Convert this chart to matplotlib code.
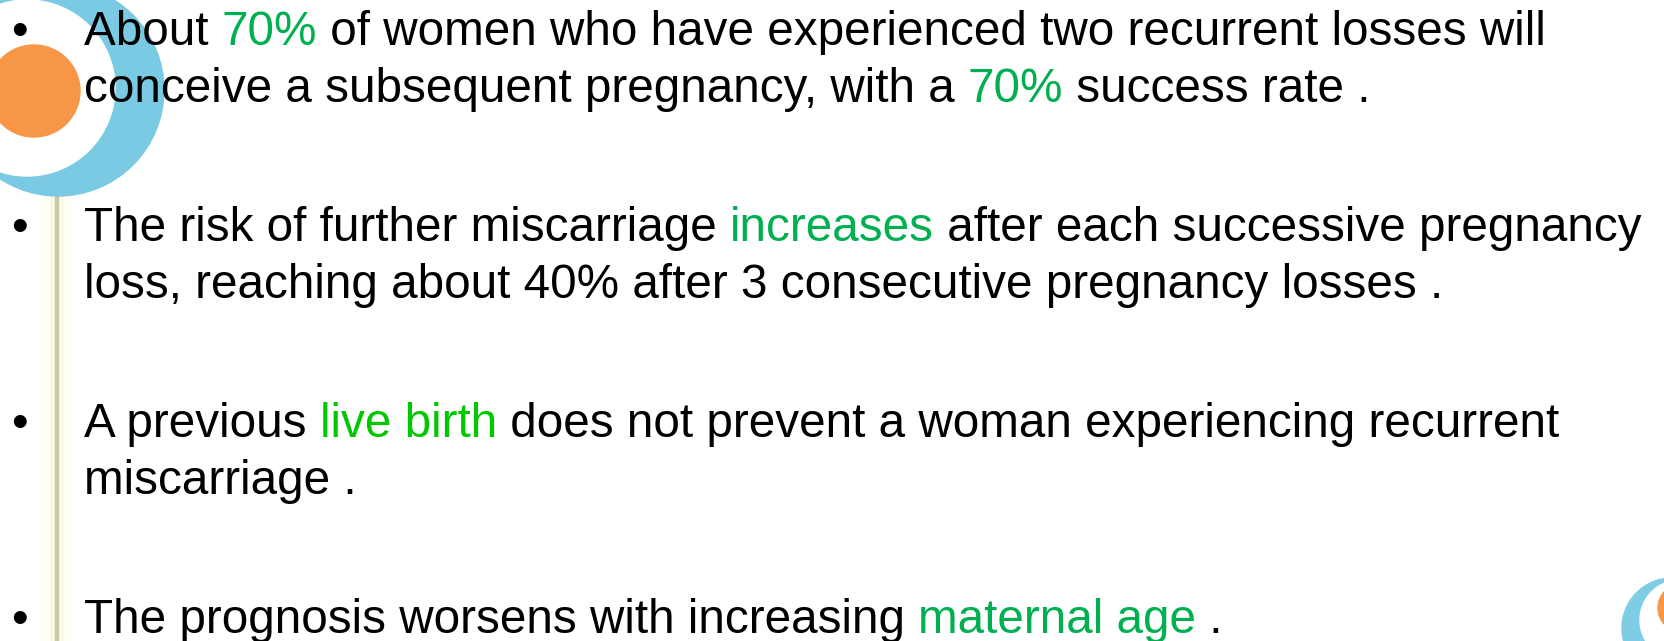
import matplotlib
matplotlib.use("Agg")
import matplotlib.pyplot as plt
from matplotlib.patches import Circle
from matplotlib.font_manager import FontProperties

BLACK = "#000000"
GREEN = "#00B050"
LIME = "#00C800"

# each bullet: list of lines, each line a list of (text, colour) runs
bullet_1 = [
    [("About ", BLACK), ("70%", GREEN), (" of women who have experienced two recurrent losses will", BLACK)],
    [("conceive a subsequent pregnancy, with a ", BLACK), ("70%", GREEN), (" success rate .", BLACK)],
]
bullet_2 = [
    [("The risk of further miscarriage ", BLACK), ("increases", GREEN), (" after each successive pregnancy", BLACK)],
    [("loss, reaching about 40% after 3 consecutive pregnancy losses .", BLACK)],
]
bullet_3 = [
    [("A previous ", BLACK), ("live birth", LIME), (" does not prevent a woman experiencing recurrent", BLACK)],
    [("miscarriage .", BLACK)],
]
bullet_4 = [
    [("The prognosis worsens with increasing ", BLACK), ("maternal age", GREEN), (" .", BLACK)],
]
bullets = [bullet_1, bullet_2, bullet_3, bullet_4]
first_baselines = [45, 241, 437, 633]
line_pitch = 57

W, H = 1665, 641
fig = plt.figure(figsize=(W / 100, H / 100), dpi=100)
ax = fig.add_axes([0, 0, 1, 1])
ax.set_xlim(0, W)
ax.set_ylim(H, 0)
ax.axis("off")

prop = FontProperties(family="Liberation Sans", size=34.3)
renderer = fig.canvas.get_renderer()


def width(s):
    w1, _, _ = renderer.get_text_width_height_descent(s + "|", prop, ismath=False)
    w2, _, _ = renderer.get_text_width_height_descent("|", prop, ismath=False)
    return w1 - w2


# vertical rule with faint glow
for lw, c in [(22, "#FEFEF6"), (10, "#F9F9EA"), (3.2, "#CACAA4")]:
    ax.plot([57.5, 57.5], [150, H], color=c, lw=lw, solid_capstyle="butt", zorder=1)

# top-left decoration
ax.add_patch(Circle((58, 90), 106, color="#7BCAE3", zorder=2))
ax.add_patch(Circle((27, 88), 88, color="white", zorder=3))
ax.add_patch(Circle((34, 91), 46, color="#F79646", zorder=4))

# bottom-right decoration
ax.add_patch(Circle((1672, 628), 50, color="#7FCDE5", zorder=2))
ax.add_patch(Circle((1680, 620), 40, color="white", zorder=3))
ax.add_patch(Circle((1682, 608), 24, color="#F79646", zorder=4))

text_x = 84
for lines, y0 in zip(bullets, first_baselines):
    ax.text(19, y0, "\u2022", fontproperties=prop, color=BLACK, ha="center",
            va="baseline", zorder=10)
    for i, runs in enumerate(lines):
        y = y0 + i * line_pitch
        prefix = ""
        for s, col in runs:
            ax.text(text_x + width(prefix), y, s, fontproperties=prop, color=col,
                    ha="left", va="baseline", zorder=10)
            prefix += s

fig.savefig("out.png", dpi=100)
